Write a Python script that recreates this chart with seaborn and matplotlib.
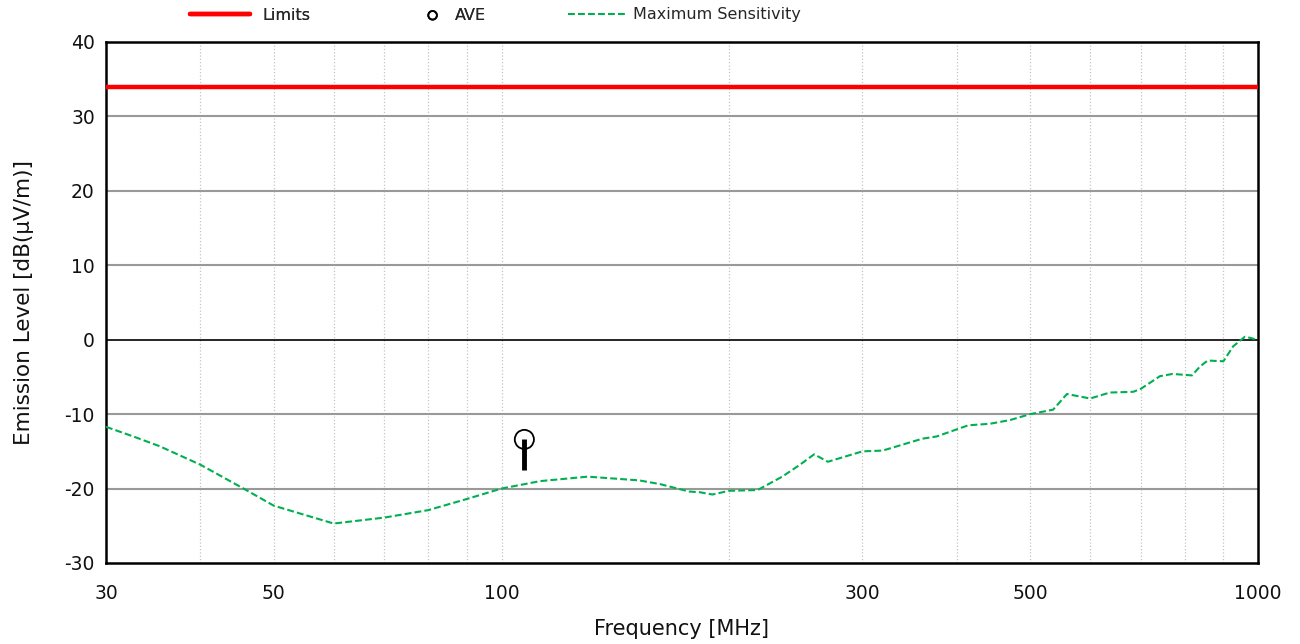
import numpy as np
import pandas as pd
import matplotlib
matplotlib.use("Agg")
import matplotlib.pyplot as plt
from matplotlib.ticker import FixedLocator, NullFormatter
import seaborn as sns

# limit line
limit_freq = [30, 1000]
limit_level = [33.9, 33.9]

# AVE measurement
ave_freq = [107.2]
ave_level = [-13.4]
ave_bar_bottom = [-17.5]

# maximum sensitivity curve
sens_freq = [30, 32.6, 35.3, 40, 45.6, 50, 60, 70, 80, 90, 100, 112.5, 130, 152, 162, 177,
             183, 190, 200, 218, 235, 248, 259, 270, 300, 319, 360, 376, 414, 442, 470,
             500, 536, 559, 600, 637, 684, 700, 742, 771, 818, 838, 858, 900, 927, 961,
             981, 1000]
sens_level = [-11.7, -13.0, -14.3, -16.8, -20.0, -22.3, -24.7, -23.9, -22.9, -21.4, -20.0,
              -19.0, -18.4, -18.9, -19.4, -20.4, -20.5, -20.8, -20.3, -20.2, -18.4, -16.8,
              -15.4, -16.4, -15.0, -14.9, -13.3, -13.0, -11.5, -11.3, -10.8, -10.0, -9.4,
              -7.3, -7.9, -7.1, -7.0, -6.6, -4.9, -4.6, -4.8, -3.6, -2.8, -2.9, -0.9, 0.4,
              0.2, -0.1]

y_ticks = [-30, -20, -10, 0, 10, 20, 30, 40]
x_ticks = [30, 50, 100, 300, 500, 1000]
grid_freq = list(range(40, 100, 10)) + list(range(100, 1000, 100))

sns.set_style("white")
plt.rcParams['font.family'] = ['DejaVu Sans']
plt.rcParams['axes.unicode_minus'] = False

fig = plt.figure(figsize=(13, 6.44), dpi=100)
ax = fig.add_axes([0.0815, 0.1258, 0.8862, 0.809])

limits = pd.DataFrame({'freq': limit_freq, 'level': limit_level})
sens = pd.DataFrame({'freq': sens_freq, 'level': sens_level})
ave = pd.DataFrame({'freq': ave_freq, 'level': ave_level})

ax.set_xscale('log')

# grid
for f in grid_freq:
    ax.axvline(f, color='#c4c4c4', lw=0.9, ls=':', zorder=0)
for y in y_ticks[1:-1]:
    ax.axhline(y, color='black' if y == 0 else '#999999', lw=1.2 if y == 0 else 1.5, zorder=0)

sns.lineplot(data=limits, x='freq', y='level', ax=ax, color='#ff0000', lw=3.2,
             label='Limits', zorder=3)
ax.vlines(ave_freq, ave_bar_bottom, ave_level, colors='black', lw=3.5, zorder=4)
sns.scatterplot(data=ave, x='freq', y='level', ax=ax, marker='o', s=190,
                facecolor='none', edgecolor='black', linewidth=1.3, label='AVE', zorder=5)
sns.lineplot(data=sens, x='freq', y='level', ax=ax, color='#00b050', lw=1.5,
             ls=(0, (3.3, 1.5)), label='Maximum Sensitivity', zorder=3)

ax.set_xlim(30, 1000)
ax.set_ylim(-30, 40)
ax.xaxis.set_major_locator(FixedLocator(x_ticks))
ax.xaxis.set_minor_locator(FixedLocator([]))
ax.xaxis.set_minor_formatter(NullFormatter())
ax.set_xticklabels([str(t) for t in x_ticks])
ax.set_yticks(y_ticks)
ax.tick_params(axis='both', length=0, labelsize=13.5, colors='#111111')
ax.tick_params(axis='x', pad=15)
ax.tick_params(axis='y', pad=8)

for s in ax.spines.values():
    s.set_color('black')
    s.set_linewidth(1.8)

ax.set_xlabel('Frequency [MHz]', fontsize=15, labelpad=12, color='#111111')
ax.set_ylabel('Emission Level [dB(μV/m)]', fontsize=15.5, labelpad=22, color='#111111')

handles, labels = ax.get_legend_handles_labels()
ax.get_legend().remove()
leg_y = 1 - 15 / 644
common = dict(loc='center left', frameon=False, fontsize=11.5, borderpad=0,
              borderaxespad=0)
leg1 = fig.legend([handles[0]], [labels[0]], bbox_to_anchor=(190 / 1300, leg_y),
                  handlelength=3.75, handletextpad=0.75, **common)
leg2 = fig.legend([handles[1]], [labels[1]], bbox_to_anchor=(423 / 1300, leg_y),
                  handlelength=1.2, handletextpad=0.8, markerscale=0.45, **common)
leg3 = fig.legend([handles[2]], [labels[2]], bbox_to_anchor=(568 / 1300, leg_y),
                  handlelength=3.75, handletextpad=0.3, **common)
fig.add_artist(leg1)
fig.add_artist(leg2)

fig.savefig('out.png', dpi=100)
